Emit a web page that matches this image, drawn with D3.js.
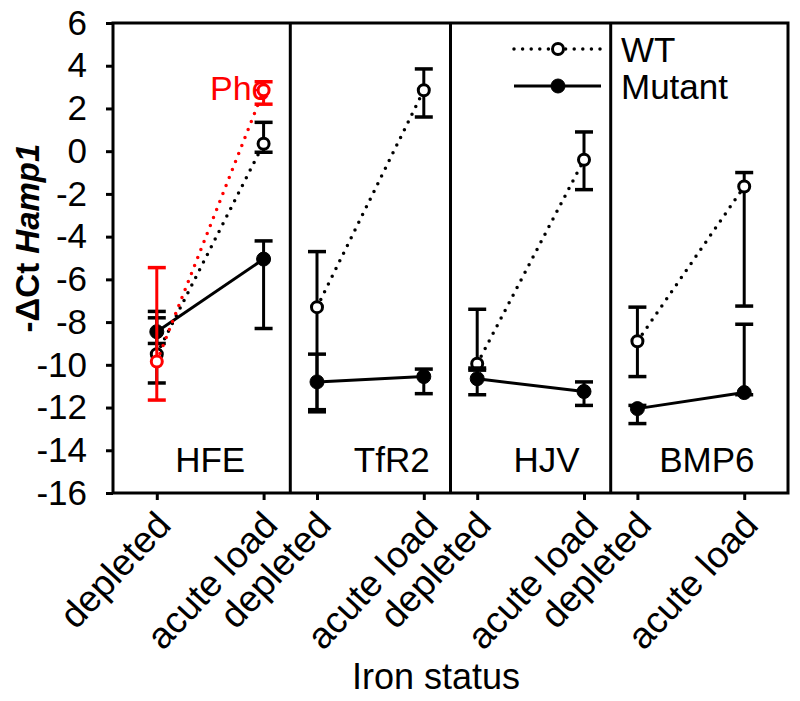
<!DOCTYPE html>
<html><head><meta charset="utf-8">
<script src="https://cdn.jsdelivr.net/npm/d3@7"></script>
<style>body{margin:0;background:#fff}text{font-family:"Liberation Sans",Arial,sans-serif;fill:#000}</style>
</head><body><svg id="c" width="800" height="701"></svg>
<script>
// ---- data ----
const genes = ["HFE", "TfR2", "HJV", "BMP6"];
const ironStatus = ["depleted", "acute load"];
const yTicks = [6, 4, 2, 0, -2, -4, -6, -8, -10, -12, -14, -16];
const seriesNames = ["WT", "Mutant"];
// [depleted, acute load] per gene
const wtMean = [[-9.5, 0.35], [-7.3, 2.85], [-9.95, -0.4], [-8.9, -1.65]];
const wtHigh = [[-7.5, 1.35], [-4.7, 3.85], [-7.4, 0.9], [-7.3, -1.0]];
const wtLow  = [[-10.85, -0.05], [-12.2, 1.6], [-10.25, -1.8], [-10.55, -7.25]];
const mutMean = [[-8.45, -5.05], [-10.8, -10.55], [-10.65, -11.25], [-12.05, -11.3]];
const mutHigh = [[-7.8, -4.2], [-9.5, -10.2], [-10.15, -10.8], [-11.9, -8.1]];
const mutLow  = [[-9.0, -8.3], [-12.1, -11.35], [-11.4, -11.9], [-12.75, -11.4]];
// Phe (HFE only)
const pheLabel = "Phe";
const pheMean = [-9.85, 2.85];
const pheHigh = [-5.45, 3.25];
const pheLow  = [-11.65, 2.2];

// ---- layout ----
const svg = d3.select("#c");
const L = 113, R = 788, T = 23, B = 493;
const x = d3.scaleLinear().domain([0.18, 12.82]).range([L, R]);
const y = d3.scaleLinear().domain([-16, 6]).range([B, T]);
const pos = (g, j) => 3 * g + 1 + 2 * j;
const FONT = '"Liberation Sans",Arial,sans-serif';

// axes
const yAxis = d3.axisLeft(y).tickValues(yTicks).tickSize(7).tickPadding(19)
  .tickFormat(d => d < 0 ? "-" + Math.abs(d) : String(d));
const ya = svg.append("g").attr("transform", `translate(${L},0)`).call(yAxis);
ya.select(".domain").remove();
ya.selectAll(".tick line").attr("stroke", "#000").attr("stroke-width", 3);
ya.selectAll(".tick text").attr("font-size", 35).attr("font-family", FONT).attr("fill", "#000");

const cats = [];
genes.forEach((g, gi) => ironStatus.forEach((s, j) => cats.push({ v: pos(gi, j), label: s })));
const xAxis = d3.axisBottom(x).tickValues(cats.map(c => c.v)).tickSize(7).tickFormat("");
const xa = svg.append("g").attr("transform", `translate(0,${B})`).call(xAxis);
xa.select(".domain").remove();
xa.selectAll(".tick line").attr("stroke", "#000").attr("stroke-width", 3);

svg.append("g").selectAll("text").data(cats).join("text")
  .attr("transform", d => `translate(${x(d.v) - 3},${B + 16}) rotate(-47)`)
  .attr("text-anchor", "end").attr("font-size", 37).attr("dy", "0.7em")
  .text(d => d.label);

// frame + dividers
svg.append("rect").attr("x", L).attr("y", T).attr("width", R - L).attr("height", B - T)
  .attr("fill", "none").attr("stroke", "#000").attr("stroke-width", 3);
[3.5, 6.5, 9.5].forEach(d => svg.append("line").attr("x1", x(d)).attr("x2", x(d))
  .attr("y1", T).attr("y2", B).attr("stroke", "#000").attr("stroke-width", 3));

// panel labels
const panelLabelX = [2.0, 5.4, 8.3, 11.3];
genes.forEach((g, gi) => svg.append("text").attr("x", x(panelLabelX[gi])).attr("y", 472)
  .attr("text-anchor", "middle").attr("font-size", 35).text(g));

// axis titles
svg.append("text").attr("x", 450 - 14).attr("y", 689).attr("text-anchor", "middle")
  .attr("font-size", 36).text("Iron status");
const yt = svg.append("text").attr("transform", "translate(39,238) rotate(-90)")
  .attr("text-anchor", "middle").attr("font-size", 33).attr("font-weight", "bold");
yt.append("tspan").text("-\u0394Ct ");
yt.append("tspan").attr("font-style", "italic").text("Hamp1");

// Phe label (behind marks)
svg.append("text").attr("x", 210).attr("y", 100).attr("font-size", 34).style("fill", "#ff0000").text(pheLabel);

// series
function drawSeries(mean, hi, lo, color, open, dotted) {
  const g = svg.append("g");
  mean.forEach((m, gi) => {
    const pts = m.map((v, j) => [x(pos(gi, j)), y(v)]);
    g.append("path").attr("d", d3.line()(pts)).attr("fill", "none").attr("stroke", color)
      .attr("stroke-width", dotted ? 3.5 : 3)
      .attr("stroke-dasharray", dotted ? "0,8.6" : null)
      .attr("stroke-linecap", dotted ? "round" : "butt");
  });
  mean.forEach((m, gi) => m.forEach((v, j) => {
    const cx = x(pos(gi, j));
    const top = y(hi[gi][j]), bot = y(lo[gi][j]);
    g.append("line").attr("x1", cx).attr("x2", cx).attr("y1", top).attr("y2", bot)
      .attr("stroke", color).attr("stroke-width", 3);
    [top, bot].forEach(yy => g.append("line").attr("x1", cx - 9).attr("x2", cx + 9)
      .attr("y1", yy).attr("y2", yy).attr("stroke", color).attr("stroke-width", 3.5));
  }));
  mean.forEach((m, gi) => m.forEach((v, j) => {
    g.append("circle").attr("cx", x(pos(gi, j))).attr("cy", y(v))
      .attr("r", open ? 5.5 : 7)
      .attr("fill", open ? "#fff" : color).attr("stroke", color).attr("stroke-width", open ? 3 : 1);
  }));
}
drawSeries(wtMean, wtHigh, wtLow, "#000", true, true);
drawSeries(mutMean, mutHigh, mutLow, "#000", false, false);
drawSeries([pheMean], [pheHigh], [pheLow], "#ff0000", true, true);

// legend
const lg = svg.append("g");
[[0, true], [1, false]].forEach(([i, open]) => {
  const yy = 49 + i * 37;
  lg.append("line").attr("x1", 514).attr("x2", 601).attr("y1", yy).attr("y2", yy)
    .attr("stroke", "#000").attr("stroke-width", open ? 3.5 : 3)
    .attr("stroke-dasharray", open ? "0,8.6" : null).attr("stroke-linecap", open ? "round" : "butt");
  lg.append("circle").attr("cx", 558).attr("cy", yy).attr("r", open ? 5.5 : 7)
    .attr("fill", open ? "#fff" : "#000").attr("stroke", "#000").attr("stroke-width", open ? 3 : 1);
  lg.append("text").attr("x", 621).attr("y", yy + 13).attr("font-size", 35).text(seriesNames[i]);
});
</script></body></html>
